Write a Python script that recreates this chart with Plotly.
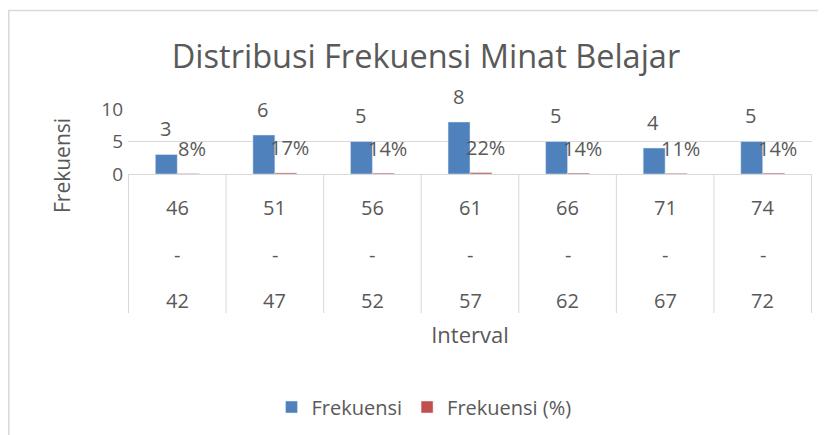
import plotly.graph_objects as go

upper = [46, 51, 56, 61, 66, 71, 74]
lower = [42, 47, 52, 57, 62, 67, 72]
categories = [f"{u} - {l}" for u, l in zip(upper, lower)]
frekuensi = [3, 6, 5, 8, 5, 4, 5]
persen = [0.08, 0.17, 0.14, 0.22, 0.14, 0.11, 0.14]
yticks = [0, 5, 10]

FONT = "Open Sans"
GREY = "#595959"
LINE = "#d9d9d9"

# the page body adds an 8px margin; targets below are reference pixels
OFF = 8
W, H = 826, 435
PL, PR, PT, PB = 128 - OFF, 812 - OFF, 109 - OFF, 174 - OFF
L, R, T, B = PL, W - PR, PT, H - PB
ph = PB - PT
pw = PR - PL

def py(p):
    return (PB - (p - OFF)) / ph

def px(p):
    return ((p - OFF) - PL) / pw

def cx(p):
    return (p - OFF) / W

def cy(p):
    return 1 - (p - OFF) / H

fig = go.Figure()
fig.add_trace(go.Bar(x=categories, y=frekuensi, name="Frekuensi", marker_color="#4f81bd"))
fig.add_trace(go.Bar(x=categories, y=persen, name="Frekuensi (%)", marker_color="#c0504d"))

lab = dict(size=20, color=GREY, family=FONT)
anns = []
for c, v in zip(categories, frekuensi):
    anns.append(dict(x=c, y=v, xref="x", yref="y", text=str(v), showarrow=False,
                     xshift=-12, yshift=26, font=lab))
for c, v in zip(categories, persen):
    anns.append(dict(x=c, y=v, xref="x", yref="y", text=f"{round(v*100)}%", showarrow=False,
                     xshift=15, yshift=25, font=lab))
# category labels (upper, dash, lower)
for c, u, l in zip(categories, upper, lower):
    for txt, ypix in ((str(u), 207), ("-", 254), (str(l), 300)):
        anns.append(dict(x=c, y=py(ypix), xref="x", yref="paper", text=txt, showarrow=False,
                         xanchor="center", yanchor="middle",
                         font=dict(size=20, color=GREY, family=FONT)))
anns.append(dict(x=px(62), y=py(166), xref="paper", yref="paper", text="Frekuensi",
                 textangle=-90, showarrow=False, xanchor="center", yanchor="middle",
                 font=dict(size=21, color=GREY, family=FONT)))

shapes = []
for i in range(len(categories) + 1):
    shapes.append(dict(type="line", xref="x", yref="paper", x0=i - 0.5, x1=i - 0.5,
                       y0=0, y1=py(313), line=dict(color=LINE, width=1)))
shapes.append(dict(type="rect", xref="paper", yref="paper", x0=px(8.8), x1=px(850),
                   y0=py(10.5), y1=py(460), line=dict(color=LINE, width=1.5), layer="below"))

fig.update_layout(
    width=W, height=H,
    margin=dict(l=L, r=R, t=T, b=B, autoexpand=False),
    paper_bgcolor="white", plot_bgcolor="white",
    title=dict(text="Distribusi Frekuensi Minat Belajar", x=cx(426), xanchor="center",
               y=cy(57), yanchor="middle", font=dict(size=32.5, color=GREY, family=FONT)),
    barmode="group", bargap=0.55, bargroupgap=0,
    showlegend=True,
    legend=dict(orientation="h", xref="container", yref="container", x=cx(424), xanchor="center",
                y=cy(407), yanchor="middle",
                font=dict(size=20, color=GREY, family=FONT)),
    annotations=anns, shapes=shapes,
    font=dict(family=FONT, color=GREY),
)
fig.update_yaxes(range=[0, 10], tickvals=yticks, showgrid=True, gridcolor=LINE,
                 zeroline=False, showline=False, tickfont=dict(size=19, color=GREY, family=FONT),
                 ticklabelstandoff=4)
fig.update_xaxes(showline=True, linecolor=LINE, linewidth=1, ticks="", showticklabels=False,
                 title=dict(text="Interval", font=dict(size=22, color=GREY, family=FONT), standoff=153))

fig.write_html("out.html")
